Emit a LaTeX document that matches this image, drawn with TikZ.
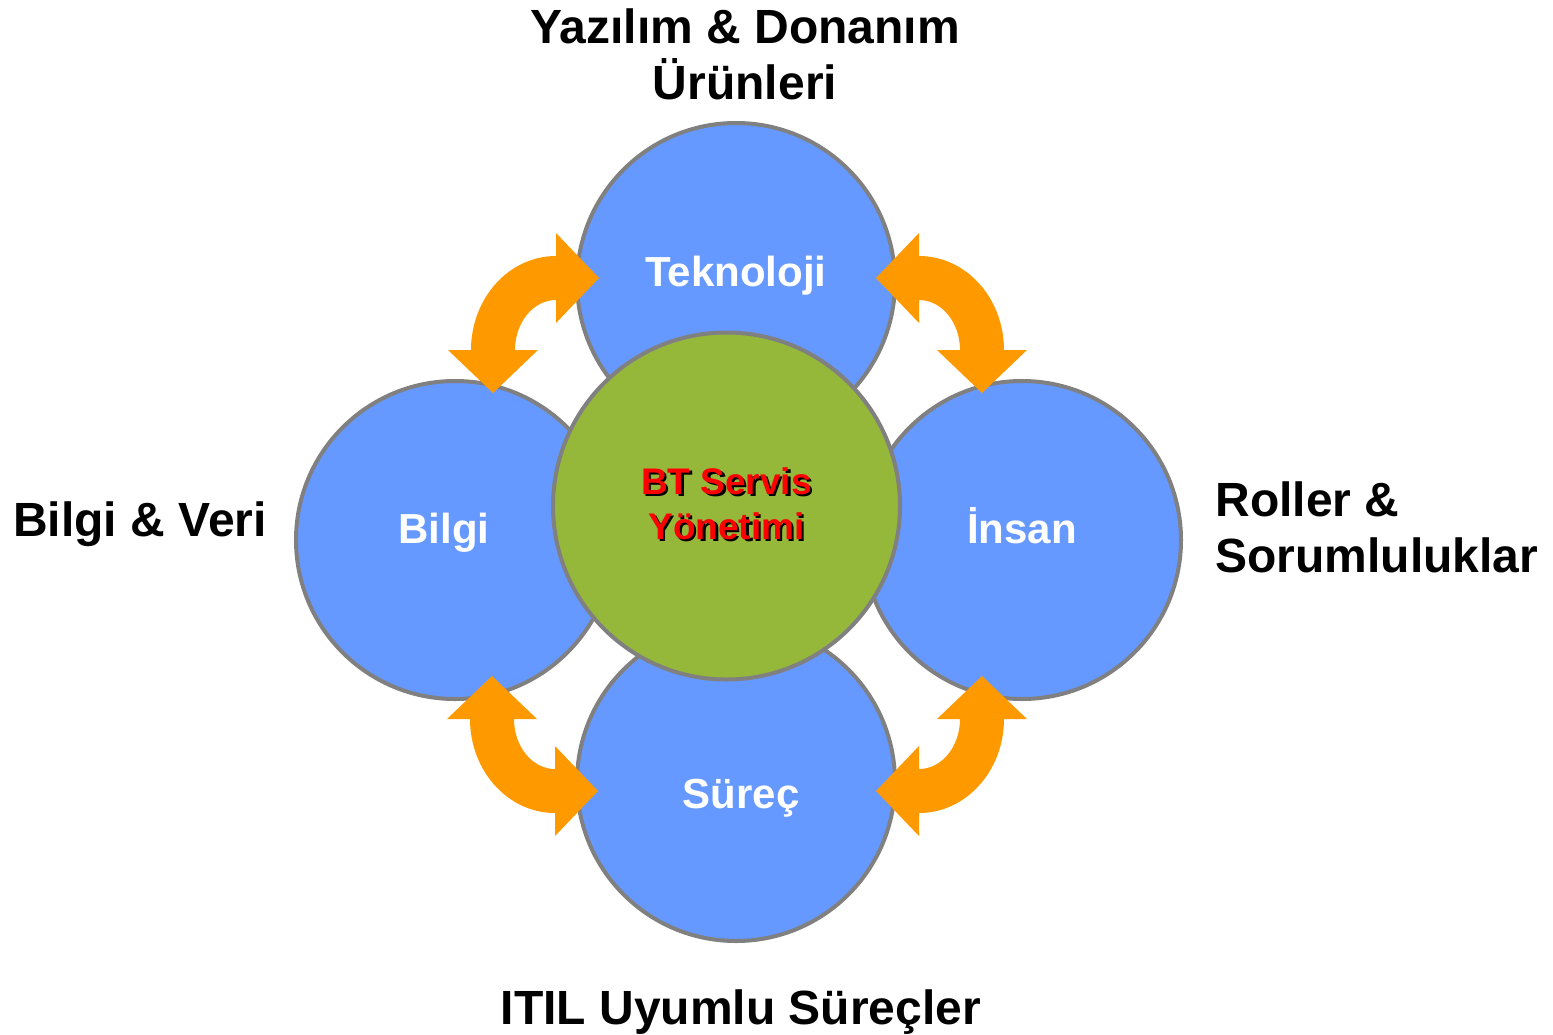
\documentclass[tikz,border=0pt]{standalone}
\usepackage{fontspec}
\setmainfont{Liberation Sans}
\usepackage{xcolor}
\usetikzlibrary{positioning}

\definecolor{circblue}{HTML}{6699FF}
\definecolor{coregreen}{HTML}{96B83A}
\definecolor{swaporange}{HTML}{FF9900}
\definecolor{rimgray}{HTML}{808080}

\tikzset{
  swaparrow/.pic={
    \fill[swaporange] (-85,0) arc[start angle=180,end angle=270,x radius=85,y radius=94]
      -- (0,-117) -- (43,-72) -- (0,-27) -- (0,-50)
      arc[start angle=270,end angle=180,x radius=41,y radius=50]
      -- (-18,0) -- (-63,43) -- (-108,0) -- cycle;
  }
}

\begin{document}
\begin{tikzpicture}[x=1pt, y=-1pt,
    part/.style={circle, draw=rimgray, line width=4pt, fill=circblue, minimum size=318pt, inner sep=0pt},
    core/.style={circle, draw=rimgray, line width=4pt, fill=coregreen, minimum size=347pt, inner sep=0pt},
    partlabel/.style={anchor=base, text=white, font=\fontsize{42}{50}\selectfont\bfseries},
    corelabel/.style={anchor=base, align=center, font=\fontsize{37}{45}\selectfont\bfseries},
    outlabel/.style={anchor=base, font=\fontsize{48}{56}\selectfont\bfseries}]
  \useasboundingbox (0,0) rectangle (1553,1034);

  % Four blue circles
  \node[part] (tek) at (736,282) {};
  \node[part] (sur) at (736,782) {};
  \node[part] (bil) at (455,540) {};
  \node[part] (ins) at (1022,540) {};

  % Green core
  \node[core] (bt) at (726.5,506) {};

  % Labels in circles
  \node[partlabel] (tektext) at (736,286) {Teknoloji};
  \node[partlabel] (biltext) at (444,543) {Bilgi};
  \node[partlabel] (instext) at (1022,543) {İnsan};
  \node[partlabel] (surtext) at (741,808) {Süreç};

  % Core text with shadow
  \node[corelabel, text=black] (btshadow) at (729,541.5) {BT Servis\\Yönetimi};
  \node[corelabel, text=red] (bttext) at (726.5,539) {BT Servis\\Yönetimi};

  % Orange swap arrows
  \pic at (556,350) {swaparrow};
  \pic[xscale=-1] at (919,350) {swaparrow};
  \pic[yscale=-1] at (555,719) {swaparrow};
  \pic[xscale=-1, yscale=-1] at (919,719) {swaparrow};

  % Outer labels
  \node[outlabel, align=center] (tekout) at (745,99) {Yazılım \& Donanım\\Ürünleri};
  \node[outlabel] (bilout) at (140,536) {Bilgi \& Veri};
  \node[outlabel, align=left, anchor=base west] (insout) at (1212,572) {Roller \&\\Sorumluluklar};
  \node[outlabel] (surout) at (741,1024) {ITIL Uyumlu Süreçler};
\end{tikzpicture}
\end{document}
